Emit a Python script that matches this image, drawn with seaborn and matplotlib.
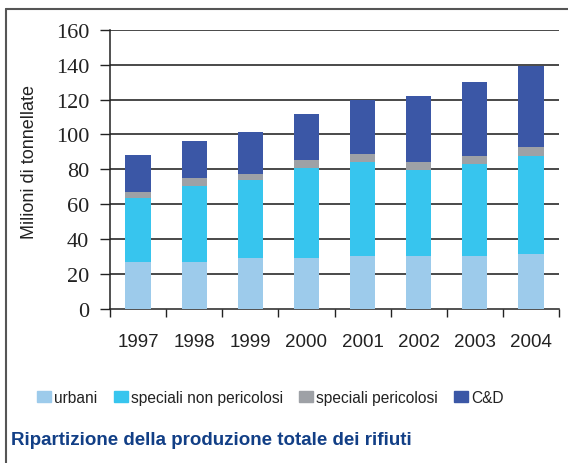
import matplotlib
matplotlib.use("Agg")
import matplotlib.pyplot as plt
from matplotlib.lines import Line2D
import numpy as np
import pandas as pd
import seaborn as sns

years = ["1997", "1998", "1999", "2000", "2001", "2002", "2003", "2004"]
urbani = [26.7, 26.7, 29.0, 29.0, 30.2, 30.2, 30.2, 31.3]
speciali_non_pericolosi = [37.0, 43.9, 45.1, 52.0, 53.8, 49.6, 52.8, 56.2]
speciali_pericolosi = [3.4, 4.6, 3.4, 4.3, 4.6, 4.3, 4.5, 5.4]
cd = [20.9, 20.8, 24.0, 26.5, 31.4, 37.9, 42.7, 46.3]

series_names = ["urbani", "speciali non pericolosi", "speciali pericolosi", "C&D"]
colors = ["#9dcbeb", "#37c5ee", "#9ea1a6", "#3b57a6"]
yticks = [0, 20, 40, 60, 80, 100, 120, 140, 160]

sns.set_theme(style="white")
plt.rcParams["font.family"] = ["Liberation Sans", "DejaVu Sans"]

df = pd.DataFrame({"year": years, "urbani": urbani,
                   "speciali non pericolosi": speciali_non_pericolosi,
                   "speciali pericolosi": speciali_pericolosi, "C&D": cd})
cum = df[series_names].cumsum(axis=1)

fig = plt.figure(figsize=(5.68, 4.64), dpi=100)
ax = fig.add_axes([110 / 568, 1 - 310 / 464, (559 - 110) / 568, (310 - 30.7) / 464])

handles = []
for name, col in reversed(list(zip(series_names, colors))):
    sns.barplot(x=df["year"], y=cum[name], color=col, width=0.45,
                saturation=1, ax=ax, linewidth=0, zorder=3)
    handles.insert(0, plt.Rectangle((0, 0), 1, 1, color=col, label=name))

ax.set_ylim(0, 160)
ax.set_xlim(-0.5, len(years) - 0.5)
ax.set_yticks(yticks)
ax.set_yticklabels([str(v) for v in yticks], family="Liberation Serif",
                   fontsize=16, color="#222222")
for v in yticks[1:]:
    ax.axhline(v, color="#3a3a3a", lw=1.3, zorder=1)

# x ticks at category boundaries, labels at centers
ax.set_xticks(np.arange(-0.5, len(years), 1.0))
ax.set_xticklabels([])
ax.set_xticks(np.arange(len(years)), minor=True)
ax.set_xticklabels(years, minor=True, fontsize=13.5, color="#222222")
ax.tick_params(axis="x", which="major", direction="out", length=6, width=1,
               color="#222222", bottom=True)
ax.tick_params(axis="x", which="minor", length=0, pad=17)
ax.tick_params(axis="y", direction="out", length=7, width=1, color="#222222",
               left=True, pad=8)
ax.set_xlabel("")
ax.set_ylabel("Milioni di tonnellate", fontsize=13, color="#222222", labelpad=0)
ax.yaxis.set_label_coords(-0.161, 0.53)

for s in ["top", "right"]:
    ax.spines[s].set_visible(False)
for s in ["left", "bottom"]:
    ax.spines[s].set_color("#222222")
    ax.spines[s].set_linewidth(1.1)

fig.legend(handles=handles, loc="center left", bbox_to_anchor=(37 / 568, 1 - 398.5 / 464),
           ncol=4, frameon=False, fontsize=11.2, handlelength=0.9, handleheight=0.75,
           handletextpad=0.2, columnspacing=1.05, borderaxespad=0, borderpad=0,
           labelcolor="#222222")

fig.text(11 / 568, 1 - 445 / 464, "Ripartizione della produzione totale dei rifiuti",
         family="Liberation Sans", fontweight="bold",
         fontsize=13.5, color="#123f86", ha="left", va="baseline")

# outer frame
fig.add_artist(Line2D([6 / 568, 6 / 568], [0, 1 - 10 / 464], color="#555555", lw=1.5,
                      transform=fig.transFigure))
fig.add_artist(Line2D([6 / 568, 1], [1 - 10 / 464, 1 - 10 / 464], color="#555555", lw=1.5,
                      transform=fig.transFigure))

fig.savefig("out.png", dpi=100)
